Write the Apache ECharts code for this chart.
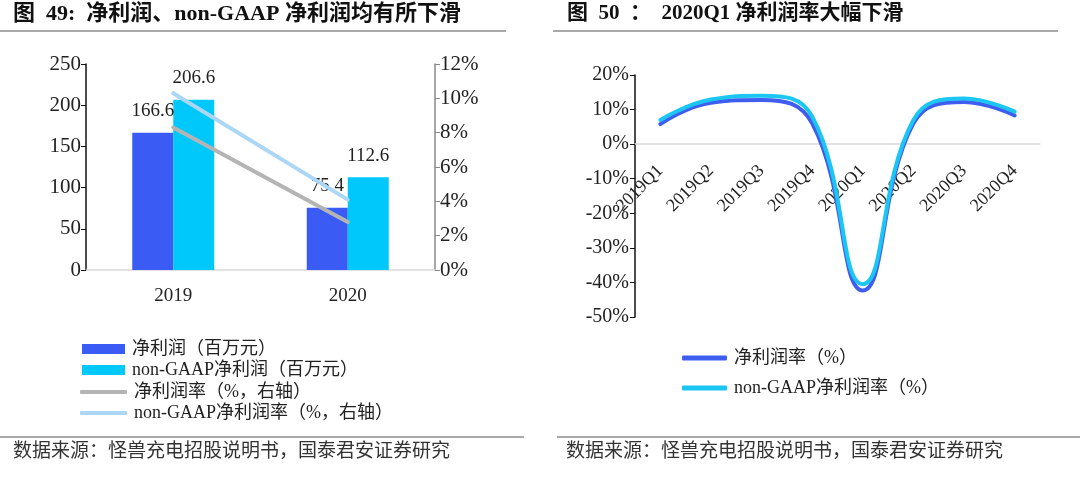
<!DOCTYPE html>
<html><head><meta charset="utf-8">
<script src="https://cdn.jsdelivr.net/npm/echarts@6/dist/echarts.min.js"></script>
<style>html,body{margin:0;padding:0;background:#fff}#c{width:1080px;height:482px}</style>
</head><body><div id="c"></div>
<script>
const years = ['2019', '2020'];
const netProfit = [166.6, 75.4];
const nonGaapProfit = [206.6, 112.6];
const netMargin = [8.3, 2.8];
const nonGaapMargin = [10.3, 4.1];
const quarters = ['2019Q1','2019Q2','2019Q3','2019Q4','2020Q1','2020Q2','2020Q3','2020Q4'];
const qNetMargin = [5.8, 12.0, 12.8, 6.0, -42.3, 6.0, 12.2, 8.3];
const qNonGaapMargin = [7.0, 12.9, 14.0, 8.0, -40.5, 7.0, 13.2, 9.4];
const leftTicks = [0, 50, 100, 150, 200, 250];
const rightTicks = [0, 2, 4, 6, 8, 10, 12];
const marginTicks = [-50, -40, -30, -20, -10, 0, 10, 20];

const FF = "'Liberation Serif','Noto Sans CJK SC',serif";
const C_DARK = '#3a5cf5', C_CYAN = '#00c8fa', C_GRAY = '#b4b4b4', C_LB = '#acd6f5';
const C_QDARK = '#3f5ef0', C_QCYAN = '#1cc6f2';

const legText = { fontFamily: FF, fontSize: 18, color: '#222', lineHeight: 20, padding: [0,0,0,2] };
function leg(name, icon, left, centerY, w, h) {
  return { left: left, top: centerY - 10, itemWidth: w, itemHeight: h, padding: 0,
    textStyle: legText, data: [{ name: name, icon: icon }] };
}

const chart = echarts.init(document.getElementById('c'));
chart.setOption({
  animation: false,
  textStyle: { fontFamily: FF },
  grid: [
    { left: 86, top: 64, width: 349, height: 206 },
    { left: 635, top: 75, width: 405, height: 242 }
  ],
  legend: [
    leg('净利润（百万元）', 'rect', 82, 349, 43, 10),
    leg('non-GAAP净利润（百万元）', 'rect', 82, 370, 43, 10),
    leg('净利润率（%，右轴）', 'roundRect', 80, 392, 47, 4),
    leg('non-GAAP净利润率（%，右轴）', 'roundRect', 80, 413, 47, 4),
    leg('净利润率（%）', 'roundRect', 682, 358, 45, 5),
    leg('non-GAAP净利润率（%）', 'roundRect', 682, 388, 45, 5)
  ],
  xAxis: [
    { type: 'category', gridIndex: 0, data: years,
      axisLine: { lineStyle: { color: '#d9d9d9', width: 1.5 } }, axisTick: { show: false },
      axisLabel: { color: '#222', fontSize: 19, margin: 17, fontFamily: FF } },
    { type: 'category', gridIndex: 1, data: quarters, offset: -173,
      axisLine: { onZero: false, lineStyle: { color: '#d9d9d9', width: 1.5 } }, axisTick: { show: false },
      axisLabel: { color: '#222', fontSize: 18, rotate: 45, margin: 24, fontFamily: FF, interval: 0 } }
  ],
  yAxis: [
    { type: 'value', gridIndex: 0, min: leftTicks[0], max: leftTicks[leftTicks.length-1], interval: 50,
      splitLine: { show: false },
      axisLine: { show: true, lineStyle: { color: '#111', width: 1.5 } },
      axisTick: { show: true, length: 5, lineStyle: { color: '#111' } },
      axisLabel: { color: '#222', fontSize: 21, margin: 5, fontFamily: FF } },
    { type: 'value', gridIndex: 0, position: 'right', min: rightTicks[0], max: rightTicks[rightTicks.length-1], interval: 2,
      splitLine: { show: false },
      axisLine: { show: true, lineStyle: { color: '#888', width: 1.5 } },
      axisTick: { show: true, length: 5, lineStyle: { color: '#888' } },
      axisLabel: { color: '#222', fontSize: 21, margin: 5, fontFamily: FF, formatter: '{value}%' } },
    { type: 'value', gridIndex: 1, min: marginTicks[0], max: marginTicks[marginTicks.length-1], interval: 10,
      splitLine: { show: false },
      axisLine: { show: true, lineStyle: { color: '#111', width: 1.5 } },
      axisTick: { show: true, length: 5, lineStyle: { color: '#111' } },
      axisLabel: { color: '#222', fontSize: 20, margin: 6, fontFamily: FF, formatter: '{value}%' } }
  ],
  series: [
    { name: '净利润（百万元）', type: 'bar', xAxisIndex: 0, yAxisIndex: 0, data: netProfit,
      barWidth: 41, barGap: '0%', itemStyle: { color: C_DARK },
      label: { show: true, position: 'top', distance: 12, fontSize: 19, color: '#222', fontFamily: FF } },
    { name: 'non-GAAP净利润（百万元）', type: 'bar', xAxisIndex: 0, yAxisIndex: 0, data: nonGaapProfit,
      barWidth: 41, barGap: '0%', itemStyle: { color: C_CYAN },
      label: { show: true, position: 'top', distance: 12, fontSize: 19, color: '#222', fontFamily: FF } },
    { name: '净利润率（%，右轴）', type: 'line', xAxisIndex: 0, yAxisIndex: 1, data: netMargin,
      symbol: 'none', lineStyle: { color: C_GRAY, width: 4, cap: 'round' }, itemStyle: { color: C_GRAY } },
    { name: 'non-GAAP净利润率（%，右轴）', type: 'line', xAxisIndex: 0, yAxisIndex: 1, data: nonGaapMargin,
      symbol: 'none', lineStyle: { color: C_LB, width: 4, cap: 'round' }, itemStyle: { color: C_LB } },
    { name: '净利润率（%）', type: 'line', xAxisIndex: 1, yAxisIndex: 2, data: qNetMargin,
      symbol: 'none', smooth: 0.45, lineStyle: { color: C_QDARK, width: 4, cap: 'round' }, itemStyle: { color: C_QDARK } },
    { name: 'non-GAAP净利润率（%）', type: 'line', xAxisIndex: 1, yAxisIndex: 2, data: qNonGaapMargin,
      symbol: 'none', smooth: 0.45, lineStyle: { color: C_QCYAN, width: 4, cap: 'round' }, itemStyle: { color: C_QCYAN } }
  ],
  graphic: [
    { type: 'text', left: 13, top: 3, style: { text: '图  49:  净利润、non-GAAP 净利润均有所下滑', font: "bold 22px " + FF, fill: '#111' } },
    { type: 'text', left: 567, top: 3, style: { text: '图  50  ：  2020Q1 净利润率大幅下滑', font: "bold 21px " + FF, fill: '#111' } },
    { type: 'line', shape: { x1: 0, y1: 31, x2: 506, y2: 31 }, style: { stroke: '#555', lineWidth: 1.2 } },
    { type: 'line', shape: { x1: 553, y1: 31, x2: 1058, y2: 31 }, style: { stroke: '#555', lineWidth: 1.2 } },
    { type: 'line', shape: { x1: 0, y1: 437, x2: 524, y2: 437 }, style: { stroke: '#555', lineWidth: 1.2 } },
    { type: 'line', shape: { x1: 557, y1: 437, x2: 1080, y2: 437 }, style: { stroke: '#555', lineWidth: 1.2 } },
    { type: 'text', left: 13, top: 443, style: { text: '数据来源：怪兽充电招股说明书，国泰君安证券研究', font: "19px " + FF, fill: '#333' } },
    { type: 'text', left: 566, top: 443, style: { text: '数据来源：怪兽充电招股说明书，国泰君安证券研究', font: "19px " + FF, fill: '#333' } }
  ]
});
</script></body></html>
